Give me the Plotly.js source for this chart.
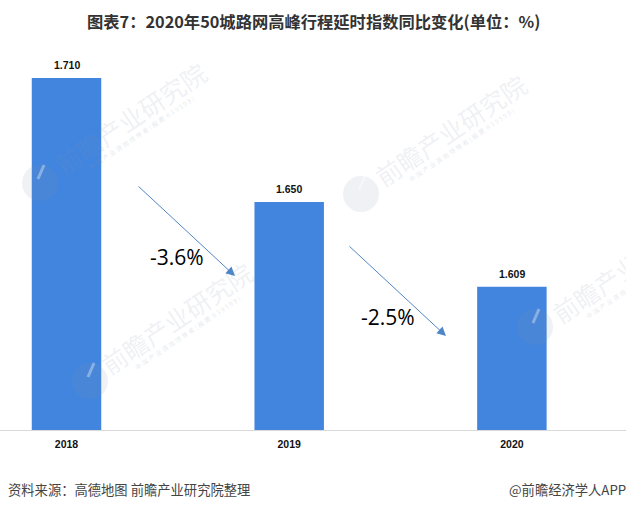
<!DOCTYPE html>
<html><head><meta charset="utf-8">
<script src="https://cdn.plot.ly/plotly-3.0.1.min.js"></script>
<style>html,body{margin:0;padding:0;background:#fff;overflow:hidden}</style>
</head><body><div id="chart" style="width:626px;height:510px"></div>
<script>
var years = ['2018','2019','2020'];
var indexValues = [1.710,1.650,1.609];
var indexLabels = ['1.710','1.650','1.609'];
var changeLabels = ['-3.6%','-2.5%'];
var chartTitle = '图表7：2020年50城路网高峰行程延时指数同比变化(单位：%)';
var sourceNote = '资料来源：高德地图 前瞻产业研究院整理';
var brandNote = '@前瞻经济学人APP';
var wmMain = '前瞻产业研究院';
var wmSub = '中 国 产 业 咨 询 领 导 者 ( 股 票  8 3 9 5 9 9 )';

var W=626,H=510;
var px=function(x){return x/W}, py=function(y){return 1-y/H};
var cjk='"Noto Sans CJK SC","Noto Sans",sans-serif';
var anns=[], shapes=[];

function txt(t,x,y,size,color,opts){
  anns.push(Object.assign({text:t,xref:'paper',yref:'paper',x:px(x),y:py(y),showarrow:false,
    xanchor:'center',yanchor:'middle',font:{family:cjk,size:size,color:color}},opts||{}));
}
// watermarks
[[130,118,40,183],[450,130,361,194],[176,318,90,381],[627,267,535,327]].forEach(function(w){
  txt(wmMain,w[0],w[1],25,'rgba(130,145,170,0.15)',{textangle:-34});
  txt(wmSub,w[0]+11,w[1]+15,6.5,'rgba(130,145,170,0.22)',{textangle:-34});
  shapes.push({type:'circle',xref:'paper',yref:'paper',layer:'above',
    x0:px(w[2]-18),x1:px(w[2]+18),y0:py(w[3]+18),y1:py(w[3]-18),
    fillcolor:'rgba(130,145,170,0.13)',line:{width:0}});
  shapes.push({type:'line',xref:'paper',yref:'paper',layer:'above',
    x0:px(w[2]-2),y0:py(w[3]-4),x1:px(w[2]+4),y1:py(w[3]-18),
    line:{color:'rgba(255,255,255,0.35)',width:3}});
});
// bar labels
years.forEach(function(y,i){
  anns.push({text:indexLabels[i],x:i,y:indexValues[i],xref:'x',yref:'y',showarrow:false,yshift:13,
    xanchor:'center',yanchor:'middle',font:{family:'"Liberation Sans",Arial,sans-serif',size:10.5,color:'#111',weight:700}});
});
// arrows
[[137,185,235,276],[348,245,446,336]].forEach(function(a){
  anns.push({text:'',xref:'paper',yref:'paper',axref:'paper',ayref:'paper',
    x:px(a[2]),y:py(a[3]),ax:px(a[0]),ay:py(a[1]),showarrow:true,arrowhead:2,arrowsize:1.8,arrowwidth:1,arrowcolor:'#4f86c6'});
});
txt(changeLabels[0],177,257,21,'#000',{font:{family:'"Open Sans",sans-serif',size:21,color:'#000'}});
txt(changeLabels[1],388,317,21,'#000',{font:{family:'"Open Sans",sans-serif',size:21,color:'#000'}});
// title and footers
txt(chartTitle,313,21,16.3,'#333',{font:{family:cjk,size:16.3,color:'#333',weight:700}});
txt(sourceNote,6,489,13.3,'#444',{xanchor:'left'});
txt(brandNote,628,489,13.3,'#444',{xanchor:'right'});

Plotly.newPlot('chart',[{
  type:'bar',x:years,y:indexValues,width:0.312,marker:{color:'#4285DE',line:{width:0}},hoverinfo:'x+y'
}],{
  width:W,height:H,margin:{l:0,r:0,t:0,b:0},paper_bgcolor:'#fff',plot_bgcolor:'#fff',showlegend:false,
  xaxis:{type:'category',range:[-0.2986,2.5124],domain:[0,1],showline:true,linecolor:'#d9d9d9',linewidth:1,
    ticks:'',showgrid:false,zeroline:false,automargin:false,ticklabelstandoff:4,
    tickfont:{family:'"Liberation Sans",Arial,sans-serif',size:10.5,color:'#111',weight:700}},
  yaxis:{range:[1.5397,1.7284],domain:[py(430),py(40)],visible:false,automargin:false},
  annotations:anns,shapes:shapes
},{displayModeBar:false,staticPlot:true});
</script></body></html>
